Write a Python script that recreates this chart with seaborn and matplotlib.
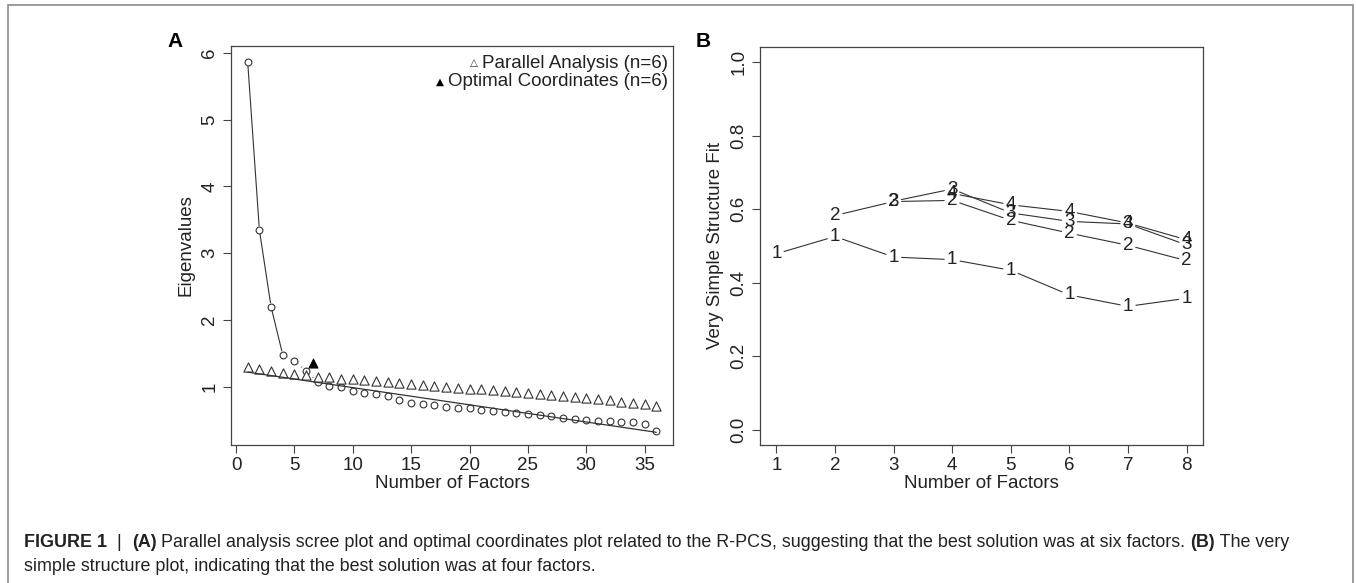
import numpy as np
import pandas as pd
import seaborn as sns
import matplotlib.pyplot as plt
from matplotlib.patches import Rectangle
from matplotlib.text import Annotation

# panel A: scree plot data
factors = list(range(1, 37))
eigen = [5.86, 3.35, 2.20, 1.48, 1.39, 1.24, 1.07, 1.015, 1.00, 0.94,
         0.905, 0.89, 0.86, 0.80, 0.76, 0.74, 0.73, 0.705, 0.69, 0.68,
         0.66, 0.64, 0.63, 0.615, 0.60, 0.58, 0.565, 0.54, 0.525, 0.51,
         0.495, 0.485, 0.475, 0.475, 0.45, 0.34]
parallel = [1.29, 1.26, 1.235, 1.21, 1.19, 1.17, 1.15, 1.14, 1.125, 1.115,
            1.10, 1.085, 1.07, 1.055, 1.04, 1.025, 1.015, 1.00, 0.985, 0.975,
            0.965, 0.95, 0.935, 0.92, 0.905, 0.89, 0.88, 0.865, 0.85, 0.835,
            0.825, 0.81, 0.78, 0.765, 0.75, 0.72]
oc_x = [1, 36]
oc_y = [1.22, 0.32]
oc_point_x = [6.6]
oc_point_y = [1.36]

# panel B: very simple structure fit by complexity
vss_x = list(range(1, 9))
vss = {
    1: [0.479, 0.526, 0.470, 0.463, 0.434, 0.367, 0.336, 0.358],
    2: [np.nan, 0.583, 0.621, 0.624, 0.570, 0.535, 0.502, 0.460],
    3: [np.nan, np.nan, 0.622, 0.655, 0.590, 0.567, 0.560, 0.503],
    4: [np.nan, np.nan, np.nan, 0.643, 0.612, 0.594, 0.5625, 0.517],
}

sns.set_theme(style="white")
plt.rcParams['font.family'] = ['Liberation Sans', 'DejaVu Sans']
plt.rcParams['axes.edgecolor'] = '#444444'
plt.rcParams['axes.linewidth'] = 0.9

W, H = 1356, 583
fig = plt.figure(figsize=(W / 100, H / 100), dpi=100)
fs = 13.5
col = '#222222'


def px_axes(l, t, r, b):
    return fig.add_axes([l / W, 1 - b / H, (r - l) / W, (b - t) / H])


def gapped(ax, xs, ys, gap, **kw):
    # lines with a small gap round each point, like R's type="b"
    pts = ax.transData.transform(np.column_stack([xs, ys]))
    inv = ax.transData.inverted()
    for p0, p1 in zip(pts[:-1], pts[1:]):
        if np.isnan(p0).any() or np.isnan(p1).any():
            continue
        d = p1 - p0
        L = np.hypot(*d)
        if L <= 2 * gap:
            continue
        u = d / L
        seg = inv.transform(np.array([p0 + u * gap, p1 - u * gap]))
        ax.plot(seg[:, 0], seg[:, 1], **kw)


def style_axes(ax):
    for s in ax.spines.values():
        s.set_visible(True)
        s.set_color('#444444')
    ax.tick_params(direction='out', length=6, width=0.8, color='#444444',
                   labelsize=fs, labelcolor=col, pad=3)
    ax.tick_params(axis='x', bottom=True)
    ax.tick_params(axis='y', left=True)
    for lab in ax.get_yticklabels():
        lab.set_rotation(90)
        lab.set_va('center')


# ---------- panel A ----------
axA = px_axes(231, 46, 673, 445)
axA.set_xlim(-0.43, 37.43)
axA.set_ylim(0.13, 6.1)
axA.set_xticks(range(0, 36, 5))
axA.set_yticks(range(1, 7))

df = pd.DataFrame({'factor': factors, 'eigen': eigen, 'parallel': parallel})
gapped(axA, factors[:4], eigen[:4], 4, color='#333333', lw=0.8)
gapped(axA, factors[3:7], eigen[3:7], 4, color='#777777', lw=0.9, ls=(0, (1, 3)))
sns.lineplot(x=oc_x, y=oc_y, ax=axA, color='#333333', lw=0.9)
sns.scatterplot(data=df, x='factor', y='eigen', ax=axA, marker='o', s=24,
                facecolor='white', edgecolor='#333333', linewidth=0.8)
sns.scatterplot(data=df, x='factor', y='parallel', ax=axA, marker='^', s=44,
                facecolor='white', edgecolor='#333333', linewidth=0.8)
sns.scatterplot(x=oc_point_x, y=oc_point_y, ax=axA, marker='^', s=44,
                color='black', edgecolor='black', linewidth=0.6)

axA.set_xlabel('Number of Factors', fontsize=fs, color=col, labelpad=0)
axA.set_ylabel('Eigenvalues', fontsize=fs, color=col, labelpad=5)
style_axes(axA)

t1 = axA.text(0.9887, 0.957, 'Parallel Analysis (n=6)', transform=axA.transAxes,
              ha='right', va='center', fontsize=fs, color=col)
t2 = axA.text(0.9887, 0.91, 'Optimal Coordinates (n=6)', transform=axA.transAxes,
              ha='right', va='center', fontsize=fs, color=col)
axA.annotate('△', xy=(0, 0.5), xycoords=t1, xytext=(-3, 0), textcoords='offset points',
             ha='right', va='center', fontsize=7.5, color='#333333',
             family=['DejaVu Sans'])
axA.annotate('▲', xy=(0, 0.5), xycoords=t2, xytext=(-3, 0), textcoords='offset points',
             ha='right', va='center', fontsize=7.5, color='black',
             family=['DejaVu Sans'])

# ---------- panel B ----------
axB = px_axes(760, 46.7, 1203, 445)
axB.set_xlim(0.72, 8.28)
axB.set_ylim(-0.041, 1.042)
axB.set_xticks(vss_x)
axB.set_yticks([0.0, 0.2, 0.4, 0.6, 0.8, 1.0])
axB.set_yticklabels(['0.0', '0.2', '0.4', '0.6', '0.8', '1.0'])

for k, vals in vss.items():
    gapped(axB, vss_x, vals, 8, color='#333333', lw=0.8)
    for x, v in zip(vss_x, vals):
        if not np.isnan(v):
            axB.text(x, v, str(k), ha='center', va='center', fontsize=fs, color=col)

axB.set_xlabel('Number of Factors', fontsize=fs, color=col, labelpad=0)
axB.set_ylabel('Very Simple Structure Fit', fontsize=fs, color=col, labelpad=5)
style_axes(axB)

# panel letters
fig.text(167 / W, 1 - 47 / H, 'A', fontsize=15, fontweight='bold', color='black')
fig.text(696 / W, 1 - 47 / H, 'B', fontsize=15, fontweight='bold', color='black')

# caption, pieces chained one after another
cfs = 12.9
line1 = [('FIGURE 1', 'bold'), ('  |  ', 'normal'), ('(A)', 'bold'),
         (' Parallel analysis scree plot and optimal coordinates plot related to the '
          'R-PCS, suggesting that the best solution was at six factors. ', 'normal'),
         ('(B)', 'bold'), (' The very', 'normal')]
anchor = fig.text(24 / W, 1 - 551 / H, line1[0][0], fontsize=cfs,
                  fontweight=line1[0][1], color=col, va='bottom')
for txt, wt in line1[1:]:
    anchor = fig.add_artist(Annotation(
        txt, xy=(1, 0), xycoords=anchor, ha='left', va='bottom',
        fontsize=cfs, fontweight=wt, color=col))
fig.text(24 / W, 1 - 575 / H, 'simple structure plot, indicating that the best solution '
         'was at four factors.', fontsize=cfs, color=col, va='bottom')

# thin frame round the figure
fig.add_artist(Rectangle((8 / W, -0.05), (1353 - 8) / W, 1.05 - 5 / H,
                         transform=fig.transFigure, fill=False,
                         edgecolor='#8a8a8a', lw=1.2))

fig.savefig('out.png', dpi=100)
